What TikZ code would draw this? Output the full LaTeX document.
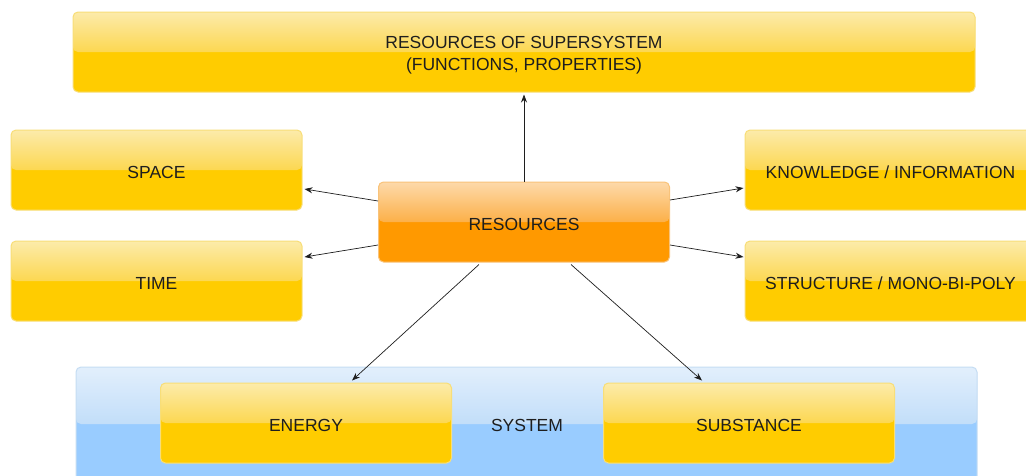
\documentclass[tikz,border=0pt]{standalone}
\usepackage{fontspec}
\setmainfont{Liberation Sans}
\usetikzlibrary{arrows.meta}
\definecolor{yelB}{HTML}{FFCC00}
\definecolor{yelT1}{HTML}{FCEBAA}
\definecolor{yelT2}{HTML}{FCD751}
\definecolor{yelE}{HTML}{F8DE78}
\definecolor{orB}{HTML}{FF9900}
\definecolor{orT1}{HTML}{FDD9AA}
\definecolor{orT2}{HTML}{FCB048}
\definecolor{orE}{HTML}{F9C37A}
\definecolor{blB}{HTML}{99CCFF}
\definecolor{blT1}{HTML}{E2EFFC}
\definecolor{blT2}{HTML}{C2DEF9}
\definecolor{blE}{HTML}{C6DDF3}
\definecolor{txt}{HTML}{1E1E1E}
\tikzset{
  glossy/.style n args={3}{path picture={
    \fill[#1] (path picture bounding box.south west) rectangle (path picture bounding box.north east);
    \shade[top color=#2, bottom color=#3] (path picture bounding box.north west) rectangle (path picture bounding box.east);
  }},
  basebox/.style={rounded corners=5pt, line width=1pt, align=center, text=txt,
    font=\fontsize{17.5}{22}\selectfont, inner sep=0pt},
  ybox/.style={basebox, draw=yelE, glossy={yelB}{yelT1}{yelT2},
    minimum width=291pt, minimum height=80pt},
  obox/.style={basebox, draw=orE, glossy={orB}{orT1}{orT2},
    minimum width=291pt, minimum height=80pt},
  bbox/.style={basebox, draw=blE, glossy={blB}{blT1}{blT2}},
  lbl/.style={text=txt, font=\fontsize{17.5}{22}\selectfont, align=center, inner sep=0pt},
  conn/.style={draw=txt, line width=0.7pt, -{Stealth[length=8pt,width=6pt]}}
}
\begin{document}
\begin{tikzpicture}[x=1pt,y=-1pt]
\useasboundingbox (0,0) rectangle (1026,475);
\clip (0,0) rectangle (1026,475);
\fill[white] (0,0) rectangle (1026,475);
% system container
\node[bbox, minimum width=901pt, minimum height=114pt] (sys) at (526.5,424) {};
\node[lbl] (syslbl) at (527,425) {SYSTEM};
% boxes
\node[ybox, minimum width=902pt] (super) at (524,52) {};
\node[lbl] (superlbl) at (524,55) {RESOURCES OF SUPERSYSTEM\\(FUNCTIONS, PROPERTIES)};
\node[ybox] (space) at (156.5,170) {};
\node[lbl] (spacelbl) at (156.5,172) {SPACE};
\node[ybox] (time) at (156.5,281) {};
\node[lbl] (timelbl) at (156.5,283) {TIME};
\node[obox] (res) at (524,222) {};
\node[lbl] (reslbl) at (524,224) {RESOURCES};
\node[ybox] (know) at (890.5,170) {};
\node[lbl] (knowlbl) at (890.5,172) {KNOWLEDGE / INFORMATION};
\node[ybox] (struct) at (890.5,281) {};
\node[lbl] (structlbl) at (890.5,283) {STRUCTURE / MONO-BI-POLY};
\node[ybox] (energy) at (306,423) {};
\node[lbl] (energylbl) at (306,425) {ENERGY};
\node[ybox] (subst) at (749,423) {};
\node[lbl] (substlbl) at (749,425) {SUBSTANCE};
% connectors
\draw[conn] (res.north) -- ([yshift=-2pt]super.south);
\draw[conn] ([yshift=21pt]res.west) -- ([xshift=2pt,yshift=-19pt]space.east);
\draw[conn] ([yshift=-23pt]res.west) -- ([xshift=2pt,yshift=24pt]time.east);
\draw[conn] ([yshift=22pt]res.east) -- ([xshift=-1pt,yshift=-18pt]know.west);
\draw[conn] ([yshift=-23pt]res.east) -- ([xshift=-1pt,yshift=24pt]struct.west);
\draw[conn] ([xshift=-45pt,yshift=-2pt]res.south) -- ([xshift=46pt,yshift=2pt]energy.north);
\draw[conn] ([xshift=47pt,yshift=-2pt]res.south) -- ([xshift=-47pt,yshift=2pt]subst.north);
\end{tikzpicture}
\end{document}
